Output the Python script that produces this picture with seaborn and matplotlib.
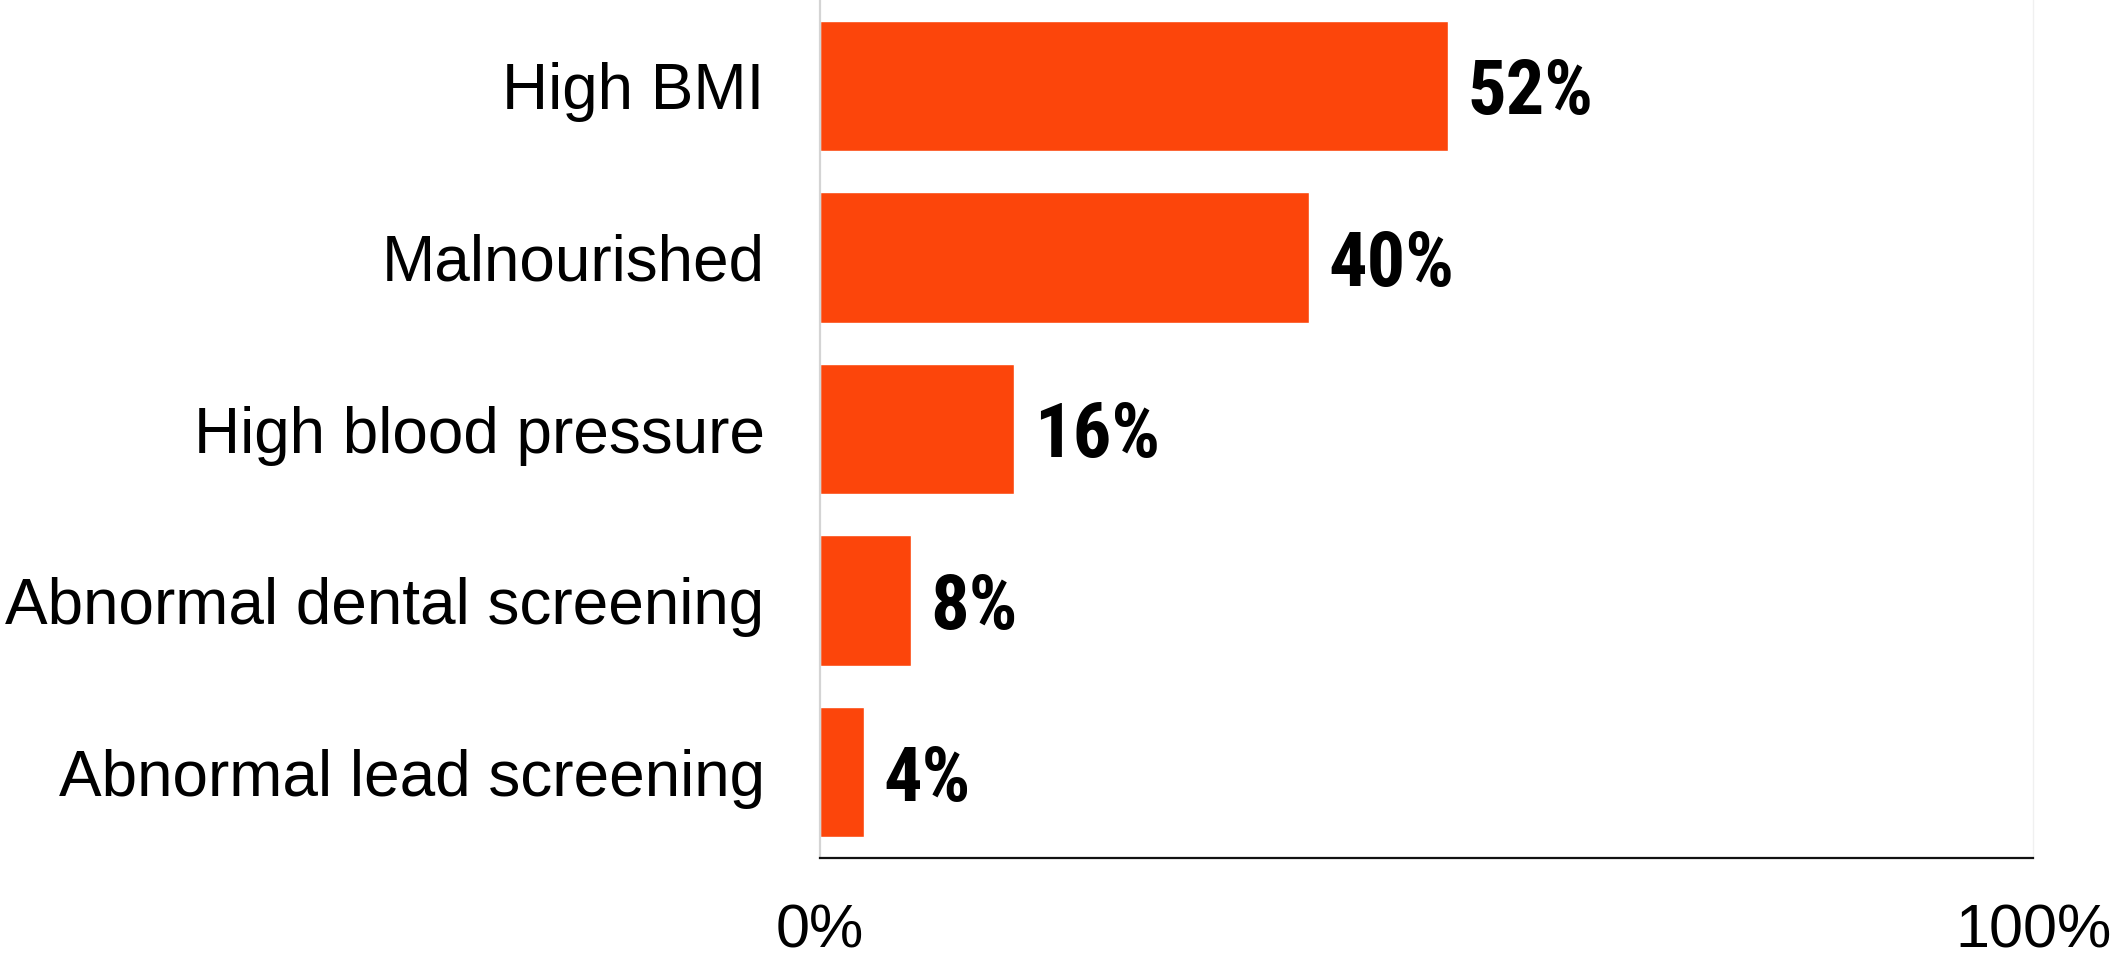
import pandas as pd
import seaborn as sns
import matplotlib.pyplot as plt

# data
conditions = ['High BMI', 'Malnourished', 'High blood pressure',
              'Abnormal dental screening', 'Abnormal lead screening']
share = [51.8, 40.3, 16.0, 7.5, 3.6]
share_labels = ['52%', '40%', '16%', '8%', '4%']
x_ticks = [0, 100]
x_tick_labels = ['0%', '100%']

df = pd.DataFrame({'condition': conditions, 'share': share})

sns.set_style('white')
plt.rcParams['font.family'] = ['Liberation Sans', 'DejaVu Sans']
plt.rcParams['text.color'] = 'black'
plt.rcParams['xtick.color'] = 'black'
plt.rcParams['ytick.color'] = 'black'

fig = plt.figure(figsize=(21.18, 9.6), dpi=100)
ax = fig.add_axes([0.3872, 0.10625, 0.5727, 0.89375])

sns.barplot(data=df, x='share', y='condition', color='#FC450B',
            saturation=1, width=0.76, orient='h', ax=ax)

# value labels in a condensed face, like the original
value_texts = ax.bar_label(ax.containers[0], labels=share_labels, padding=14,
                           fontsize=55, fontweight='bold', color='black',
                           family=['Roboto Condensed', 'Liberation Sans Narrow', 'DejaVu Sans'])
for t in value_texts:
    t.set_verticalalignment('center_baseline')

ax.set_xlim(0, 100)
ax.set_xticks(x_ticks)
ax.set_xticklabels(x_tick_labels)
ax.tick_params(axis='x', length=0, pad=33, labelsize=44, labelcolor='black')
ax.tick_params(axis='y', length=0, pad=40, labelsize=46, labelcolor='black')
ax.set_xlabel('')
ax.set_ylabel('')

ax.spines['top'].set_visible(False)
ax.spines['left'].set_color('#d4d4d4')
ax.spines['left'].set_linewidth(1.6)
ax.spines['right'].set_color('#f0f0f0')
ax.spines['right'].set_linewidth(1.0)
ax.spines['bottom'].set_color('#111111')
ax.spines['bottom'].set_linewidth(1.6)

fig.savefig('out.png', dpi=100)
